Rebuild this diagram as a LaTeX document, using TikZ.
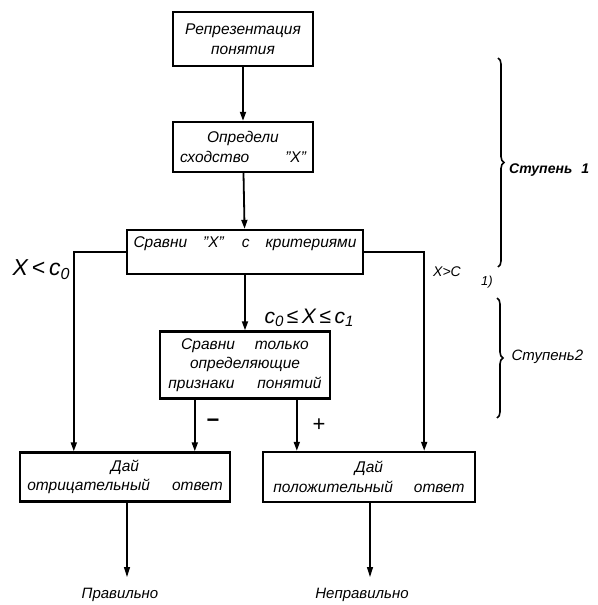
\documentclass[tikz,border=0pt]{standalone}
\usepackage{fontspec}
\setmainfont{Liberation Sans}
\usetikzlibrary{arrows.meta,decorations.pathreplacing,calc}
\begin{document}
\begin{tikzpicture}[x=1pt,y=-1pt,
  box/.style={draw,line width=2.4pt,align=center,inner sep=2pt,font=\fontsize{15.5}{19.5}\selectfont\itshape},
  conn/.style={line width=1.8pt,-{Triangle[length=9pt,width=6pt]}},
  thinconn/.style={line width=1.2pt,-{Triangle[length=10pt,width=6pt]}},
  lbl/.style={font=\fontsize{15}{18}\selectfont\itshape},
  brc/.style={decorate,decoration={brace,amplitude=6pt},line width=1.6pt}]
\useasboundingbox (0,0) rectangle (597,605);
\node[box,minimum width=140pt,minimum height=54pt] (b1) at (243,39) {Репрезентация\\понятия};
\node[box,minimum width=140pt,minimum height=50pt] (b2) at (243,147) {Определи\\сходство\hspace{36pt}"X"};
\node[box,minimum width=236pt,minimum height=44pt] (b3) at (245,252) {Сравни\hspace{16pt}"X"\hspace{18pt}с\hspace{16pt}критериями\\ \mbox{}};
\node[box,minimum width=170pt,minimum height=67pt] (b4) at (245,365) {Сравни\hspace{20pt}только\\определяющие\\признаки\hspace{23pt}понятий};
\node[box,minimum width=210pt,minimum height=49pt] (b5) at (125,477) {Дай\\отрицательный\hspace{22pt}ответ};
\node[box,minimum width=212pt,minimum height=50pt] (b6) at (369,477) {Дай\\положительный\hspace{21pt}ответ};

\draw[conn] (b1) -- (b2);
\draw[conn] (b2) -- (b3);
\draw[conn] (b3) -- (b4);
\draw[conn] (b3.west) -| ($(b5.north west)+(55,0)$);
\draw[conn] (b3.east) -| ($(b6.north east)+(-52,0)$);
\draw[conn] ([xshift=36pt]b4.south west) -- ([xshift=36pt]b4.south west |- b5.north);
\draw[conn] ([xshift=138pt]b4.south west) -- ([xshift=138pt]b4.south west |- b6.north);

\coordinate (o1) at (127,577);
\coordinate (o2) at (370,577);
\draw[thinconn] (b5.south -| o1) -- (o1);
\draw[thinconn] (b6.south -| o2) -- (o2);
\node[lbl] (t1) at (120,595) {Правильно};
\node[lbl] (t2) at (362,595) {Неправильно};

\node[font=\fontsize{23}{26}\selectfont\itshape] (l1) at (41,270) {X\,<\,c\raisebox{-4pt}{\fontsize{16}{16}\selectfont 0}};
\node[font=\fontsize{21}{24}\selectfont\itshape] (l2) at (309,318) {c\raisebox{-3pt}{\fontsize{15}{15}\selectfont 0}\,≤\,X\,≤\,c\raisebox{-3pt}{\fontsize{15}{15}\selectfont 1}};
\node[font=\fontsize{14}{16}\selectfont\itshape] (l3) at (447,272) {X>C};
\node[font=\fontsize{13}{15}\selectfont\itshape] (l4) at (487,282) {1)};
\node[font=\fontsize{22}{24}\selectfont\bfseries] (l5) at (213,423) {−};
\node[font=\fontsize{22}{24}\selectfont] (l6) at (319,425) {+};

\draw[brc] (498,58) -- (498,267);
\draw[brc] (497,298) -- (497,418);
\node[font=\fontsize{14}{17}\selectfont\bfseries\itshape,anchor=west,inner sep=1pt] (s1) at (508,170) {Ступень\hspace{9pt}1};
\node[lbl,anchor=west] (s2) at (508,357) {Ступень2};
\end{tikzpicture}
\end{document}
